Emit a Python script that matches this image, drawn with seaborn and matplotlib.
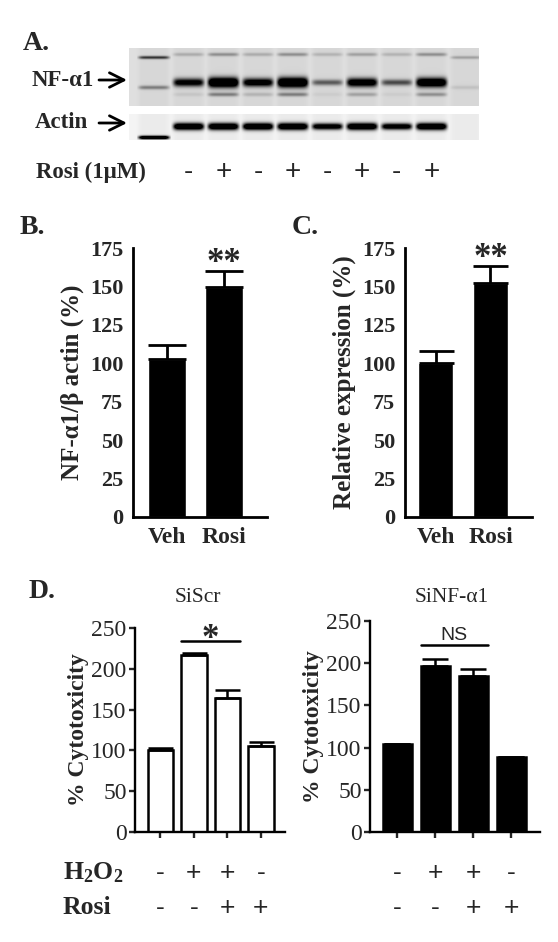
import numpy as np
import pandas as pd
import seaborn as sns
import matplotlib.pyplot as plt
from matplotlib import transforms

sns.set_style('white')
plt.rcParams['font.family'] = ['Liberation Serif', 'DejaVu Sans']
plt.rcParams['mathtext.fontset'] = 'custom'
plt.rcParams['mathtext.rm'] = 'Liberation Serif'
plt.rcParams['mathtext.bf'] = 'Liberation Serif:bold'

# ---- data ----
# panel A: blot band darkness per lane (ladder, 8 samples, ladder)
nf_main = [0.0, 0.7, 1.0, 0.75, 1.0, 0.35, 0.8, 0.4, 0.9, 0.0]
nf_upper = [0.0, 0.12, 0.2, 0.12, 0.2, 0.1, 0.15, 0.1, 0.2, 0.0]
nf_lower = [0.0, 0.05, 0.25, 0.1, 0.25, 0.03, 0.15, 0.03, 0.2, 0.0]
ladder_nf = [0.45, 0.0, 0.0, 0.0, 0.0, 0.0, 0.0, 0.0, 0.0, 0.15]
ladder_nf_low = [0.25, 0.0, 0.0, 0.0, 0.0, 0.0, 0.0, 0.0, 0.0, 0.06]
actin_band = [0.0, 1.0, 1.0, 1.0, 1.0, 0.85, 1.0, 0.85, 1.0, 0.0]
ladder_actin = [1.0, 0.0, 0.0, 0.0, 0.0, 0.0, 0.0, 0.0, 0.0, 0.0]
blot_rosi = ['-', '+', '-', '+', '-', '+', '-', '+']

# panel B / C
bc_groups = ['Veh', 'Rosi']
b_mean = [102.5, 149.5]
b_err = [9.5, 10.5]
c_mean = [100.5, 152.0]
c_err = [7.5, 11.0]

# panel D
d_cond = ['c1', 'c2', 'c3', 'c4']
scr_mean = [101, 217, 164, 106]
scr_err = [1.5, 2.5, 10, 4.5]
si_mean = [104, 197, 185, 89]
si_err = [0, 7.5, 8, 0]
h2o2_signs = ['-', '+', '+', '-']
rosi_signs = ['-', '-', '+', '+']

W, H = 558, 942
fig = plt.figure(figsize=(W / 100, H / 100), dpi=100)


def px_axes(x0, y0, x1, y1):
    return fig.add_axes([x0 / W, 1 - y1 / H, (x1 - x0) / W, (y1 - y0) / H])


def ftext(x, y, s, **kw):
    fig.text(x / W, 1 - y / H, s, **kw)


# ---- panel A: blot ----
lane_lo, lane_hi = -0.72, 9.37


def blot(rows, bands, bg):
    cols = 350
    u = lane_lo + (np.arange(cols) + 0.5) / cols * (lane_hi - lane_lo)
    k = np.round(u).astype(int)
    inside = (k >= 0) & (k <= 9)
    k = np.clip(k, 0, 9)
    d = u - np.round(u)
    hprof = np.exp(-(d / 0.44) ** 8) * inside
    r = np.arange(rows)[:, None]
    img = bg - 0.035 * (1 - hprof)[None, :] + np.zeros((rows, cols))
    for row0, vals, sig in bands:
        v = np.array(vals)[k]
        s = sig(v) if callable(sig) else sig
        img = img + 1.4 * v[None, :] * hprof[None, :] * np.exp(-((r - row0) / s) ** 2)
    return np.clip(img, 0, 1)


top = blot(58, [(34, nf_main, lambda v: 1.8 + 3.2 * v),
                (6, nf_upper, 1.8),
                (46, nf_lower, 2.0),
                (9, ladder_nf, 1.6),
                (39, ladder_nf_low, 2.0)], 0.16)
bot = blot(26, [(12, actin_band, lambda v: 1.2 + 2.3 * v),
                (23, ladder_actin, 1.8)], 0.08)

ax_a1 = px_axes(129, 48, 479, 106)
ax_a1.imshow(top, cmap='gray_r', vmin=0, vmax=1, aspect='auto',
             extent=(lane_lo, lane_hi, 58, 0), interpolation='bilinear')
ax_a1.axis('off')
ax_a2 = px_axes(129, 114, 479, 140)
ax_a2.imshow(bot, cmap='gray_r', vmin=0, vmax=1, aspect='auto',
             extent=(lane_lo, lane_hi, 26, 0), interpolation='bilinear')
ax_a2.axis('off')

ftext(23, 44, 'A.', fontsize=20, fontweight='bold', va='center')
ftext(32, 80, 'NF-\u03b11', fontsize=16.5, fontweight='bold', va='center')
ftext(35, 123, 'Actin', fontsize=16.5, fontweight='bold', va='center')
ftext(36, 172, 'Rosi (1\u03bcM)', fontsize=16.5, fontweight='bold', va='center')
for yy in (80, 123):
    fig.add_artist(plt.Annotation('', xy=(127 / W, 1 - yy / H), xytext=(99 / W, 1 - yy / H),
                                  xycoords='figure fraction',
                                  arrowprops=dict(arrowstyle='->', lw=2.0, color='black',
                                                  mutation_scale=26, shrinkA=0, shrinkB=0)))
tr = transforms.blended_transform_factory(ax_a2.transData, ax_a2.transAxes)
for i, s in enumerate(blot_rosi):
    ax_a2.text(i + 1, -1.23, s, transform=tr, ha='center', va='center',
               fontsize=20, family='Liberation Sans', clip_on=False)


# ---- panels B and C ----
def bc_panel(box, mean, err, ylabel, xl, width, cap):
    ax = px_axes(*box)
    sns.barplot(x=bc_groups, y=mean, color='black', saturation=1, width=width,
                errorbar=None, ax=ax)
    ax.errorbar(range(2), mean, yerr=[np.zeros(2), err], fmt='none', ecolor='black',
                elinewidth=2, capsize=cap, capthick=2)
    ax.set_xlim(*xl)
    ax.set_ylim(0, 175)
    ax.set_yticks(range(0, 176, 25))
    ax.set_yticklabels([str(t) for t in range(0, 176, 25)], fontsize=16, fontweight='bold')
    ax.set_xticks(range(2))
    ax.set_xticklabels(bc_groups, fontsize=17, fontweight='bold')
    ax.tick_params(axis='y', length=5, width=2, pad=2)
    ax.tick_params(axis='x', length=0, pad=7)
    sns.despine(ax=ax)
    for sp in ('left', 'bottom'):
        ax.spines[sp].set_linewidth(2)
        ax.spines[sp].set_color('black')
    ax.set_ylabel(ylabel, fontsize=18, fontweight='bold', labelpad=4)
    ax.text(1, max(np.array(mean) + np.array(err)) + 5, '**', ha='center', va='center',
            fontsize=25, fontweight='bold')
    return ax


bc_panel((133, 248, 267, 517), b_mean, b_err, 'NF-\u03b11/\u03b2 actin (%)',
         (-0.6, 1.75), 0.667, 13.7)
bc_panel((405, 248, 532, 517), c_mean, c_err, 'Relative expression (%)',
         (-0.555, 1.755), 0.64, 12.6)
ftext(20, 227, 'B.', fontsize=20, fontweight='bold', va='center')
ftext(292, 228, 'C.', fontsize=20, fontweight='bold', va='center')


# ---- panel D ----
def d_panel(box, mean, err, fill, title, xl, width, cap, mark, mark_y, title_xy):
    ax = px_axes(*box)
    sns.barplot(x=d_cond, y=mean, color=fill, saturation=1, width=width,
                edgecolor='black', linewidth=1.8, errorbar=None, ax=ax)
    ax.errorbar(range(4), mean, yerr=[np.zeros(4), err], fmt='none', ecolor='black',
                elinewidth=1.8, capsize=cap, capthick=1.8)
    ax.set_xlim(*xl)
    ax.set_ylim(0, 250)
    ax.set_yticks(range(0, 251, 50))
    ax.set_yticklabels([str(t) for t in range(0, 251, 50)], fontsize=17)
    ax.set_xticks(range(4))
    ax.set_xticklabels([''] * 4)
    ax.tick_params(axis='y', length=4, width=1.7, pad=2)
    ax.tick_params(axis='x', length=4, width=1.7, direction='out')
    ax.tick_params(bottom=True, left=True)
    sns.despine(ax=ax)
    for sp in ('left', 'bottom'):
        ax.spines[sp].set_linewidth(1.7)
        ax.spines[sp].set_color('black')
    ax.set_ylabel('% Cytotoxicity', fontsize=17, fontweight='bold', labelpad=2)
    half = width / 2
    ax.plot([1 - half, 2 + half], [mark_y, mark_y], color='black', lw=1.8, clip_on=False)
    if mark == '*':
        ax.text(1.5, mark_y + 2, mark, ha='center', va='center', fontsize=25,
                fontweight='bold')
    else:
        ax.text(1.5, mark_y + 11, mark, ha='center', va='center', fontsize=14,
                family='Liberation Sans')
    ftext(title_xy[0], title_xy[1], title, fontsize=15.5, ha='center', va='center')
    x0, y0, x1, y1 = box
    trd = transforms.blended_transform_factory(ax.transData, ax.transAxes)
    for i in range(4):
        for signs, ypx in ((h2o2_signs, 873), (rosi_signs, 908)):
            ax.text(i, (y1 - ypx) / (y1 - y0), signs[i], transform=trd, ha='center',
                    va='center', fontsize=19, family='Liberation Sans', clip_on=False)
    return ax


d_panel((135, 628, 285, 832), scr_mean, scr_err, 'white', 'SiScr', (-0.76, 3.72), 0.76, 9,
        '*', 234, (198, 598))
d_panel((370, 621, 540, 832), si_mean, si_err, 'black', 'SiNF-\u03b11', (-0.72, 3.75), 0.75,
        9.7, 'NS', 222, (452, 597))
ftext(29, 592, 'D.', fontsize=20, fontweight='bold', va='center')
ftext(63, 873, r'$\mathbf{H_2O_2}$', fontsize=18.5, va='center')
ftext(63, 908, 'Rosi', fontsize=18.5, fontweight='bold', va='center')

fig.savefig('out.png', dpi=100)
